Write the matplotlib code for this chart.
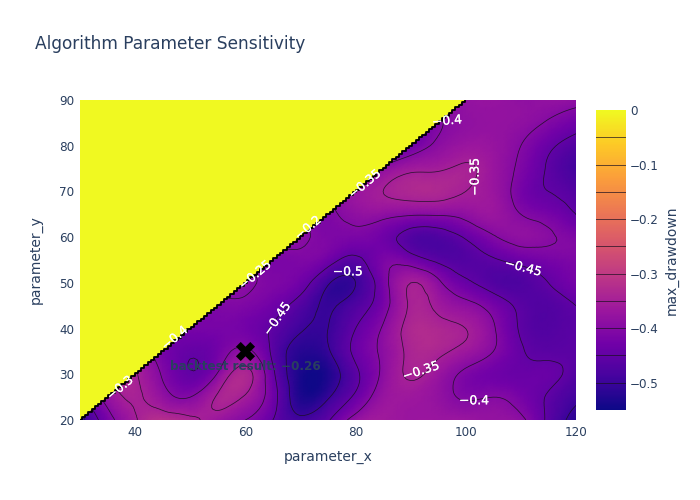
import matplotlib

matplotlib.use("Agg")
import matplotlib.patheffects as pe
import matplotlib.pyplot as plt
import matplotlib.tri as mtri
import numpy as np
from matplotlib.cm import ScalarMappable
from matplotlib.colors import LinearSegmentedColormap, Normalize

plt.rcParams["font.family"] = "DejaVu Sans"

param_x = [30, 35, 40, 45, 50, 55, 60, 65, 70, 75, 80, 85, 90, 95, 100, 105, 110, 115, 120]
param_y = [20, 25, 30, 35, 40, 45, 50, 55, 60, 65, 70, 75, 80, 85, 90]

# max drawdown per (y, x); zero means the combination was not run
max_drawdown = [
    [-.52, -.42, -.355, -.32, -.34, -.37, -.40, -.45, -.49, -.455, -.38, -.36, -.37, -.37, -.37, -.38, -.39, -.46, -.52],
    [0, -.38, -.345, -.38, -.40, -.345, -.355, -.43, -.53, -.505, -.44, -.375, -.365, -.38, -.405, -.40, -.42, -.455, -.49],
    [0, 0, -.345, -.405, -.447, -.395, -.335, -.44, -.535, -.53, -.46, -.39, -.345, -.37, -.41, -.43, -.44, -.44, -.47],
    [0, 0, 0, -.42, -.445, -.425, -.39, -.46, -.52, -.505, -.44, -.39, -.34, -.34, -.365, -.40, -.445, -.46, -.46],
    [0, 0, 0, 0, -.42, -.42, -.425, -.455, -.495, -.50, -.45, -.395, -.335, -.335, -.35, -.395, -.455, -.47, -.46],
    [0, 0, 0, 0, 0, -.41, -.41, -.43, -.47, -.505, -.475, -.42, -.345, -.36, -.385, -.42, -.46, -.47, -.45],
    [0, 0, 0, 0, 0, 0, -.39, -.41, -.43, -.495, -.50, -.42, -.35, -.39, -.44, -.47, -.475, -.45, -.42],
    [0, 0, 0, 0, 0, 0, 0, -.415, -.41, -.43, -.46, -.415, -.425, -.46, -.47, -.455, -.435, -.42, -.41],
    [0, 0, 0, 0, 0, 0, 0, 0, -.39, -.41, -.415, -.43, -.47, -.475, -.445, -.405, -.385, -.395, -.41],
    [0, 0, 0, 0, 0, 0, 0, 0, 0, -.41, -.385, -.385, -.395, -.395, -.385, -.37, -.40, -.42, -.45],
    [0, 0, 0, 0, 0, 0, 0, 0, 0, 0, -.37, -.35, -.335, -.335, -.35, -.37, -.42, -.45, -.47],
    [0, 0, 0, 0, 0, 0, 0, 0, 0, 0, 0, -.39, -.36, -.355, -.345, -.37, -.41, -.455, -.49],
    [0, 0, 0, 0, 0, 0, 0, 0, 0, 0, 0, 0, -.43, -.39, -.37, -.375, -.40, -.44, -.47],
    [0, 0, 0, 0, 0, 0, 0, 0, 0, 0, 0, 0, 0, -.405, -.385, -.38, -.385, -.405, -.43],
    [0, 0, 0, 0, 0, 0, 0, 0, 0, 0, 0, 0, 0, 0, -.38, -.375, -.385, -.38, -.385],
]

plasma_stops = ["#0d0887", "#46039f", "#7201a8", "#9c179e", "#bd3786",
                "#d8576b", "#ed7953", "#fb9f3a", "#fdca26", "#f0f921"]
contour_levels = [-.55, -.5, -.45, -.4, -.35, -.3, -.25, -.2, -.15, -.1, -.05]

label_x = [37.3, 47.2, 61.8, 71.4, 81.7, 96.6, 101.7, 110.4, 78.6, 91.9, 101.5, 65.8]
label_y = [27.0, 37.9, 51.7, 62.0, 71.6, 85.4, 73.2, 53.3, 52.4, 30.7, 24.2, 42.1]
label_text = ["−0.3", "−0.4", "−0.25", "−0.2", "−0.35", "−0.4", "−0.35", "−0.45", "−0.5", "−0.35", "−0.4", "−0.45"]
label_angle = [40, 40, 40, 40, 40, 5, 90, -15, 0, 18, 0, 55]

best_x, best_y = 60, 35
best_text = "backtest result: −0.26"
colorbar_ticks = [0, -.1, -.2, -.3, -.4, -.5]
colorbar_labels = ["0", "−0.1", "−0.2", "−0.3", "−0.4", "−0.5"]

INK = "#2a3f5f"
W, H = 700, 500


def grid_triangulation(xs, ys, values):
    """Triangles along the y = x diagonal; those touching a zero cell are masked."""
    nx, ny = len(xs), len(ys)
    gx, gy = np.meshgrid(xs, ys)
    idx = np.arange(nx * ny).reshape(ny, nx)
    a, b = idx[:-1, :-1].ravel(), idx[:-1, 1:].ravel()
    c, d = idx[1:, 1:].ravel(), idx[1:, :-1].ravel()
    tris = np.vstack([np.c_[a, b, c], np.c_[a, c, d]])
    tri = mtri.Triangulation(gx.ravel().astype(float), gy.ravel().astype(float), tris)
    tri.set_mask((values.ravel()[tris] == 0).any(axis=1))
    return tri


z = np.asarray(max_drawdown)
cmap = LinearSegmentedColormap.from_list("plotly_plasma", plasma_stops)
norm = Normalize(vmin=-0.55, vmax=0)

fig = plt.figure(figsize=(W / 100, H / 100), dpi=100)
ax = fig.add_axes([80 / W, 80 / H, 496 / W, 320 / H])
ax.set_facecolor(cmap(1.0))

tri = grid_triangulation(param_x, param_y, z)
fine_tri, fine_z = mtri.UniformTriRefiner(tri).refine_field(z.ravel().astype(float), subdiv=3)
ax.tripcolor(fine_tri, fine_z, shading="gouraud", cmap=cmap, norm=norm)
ax.tricontour(fine_tri, fine_z, levels=contour_levels, colors="#1a1020", linewidths=0.55,
              linestyles="solid", alpha=0.85)

# black staircase where the surface drops to zero
edge_x = np.arange(param_x[0], param_x[-1] + 0.1, 0.6)
edge_y = edge_x - (param_x[0] - param_y[0])
ax.step(edge_x, edge_y, where="mid", color="black", linewidth=1.3, zorder=3)

for lx, ly, text, angle in zip(label_x, label_y, label_text, label_angle):
    ax.text(lx, ly, text, color="white", fontsize=8.9, rotation=angle, rotation_mode="anchor",
            ha="center", va="center", zorder=5,
            path_effects=[pe.withStroke(linewidth=0.15, foreground="white")])

ax.scatter([best_x], [best_y], marker="X", s=190, color="black", linewidths=0, zorder=6)
ax.annotate(best_text, (best_x, best_y), xytext=(0, -11), textcoords="offset points",
            ha="center", va="center", color=INK, fontsize=8.64, fontweight="bold", zorder=7)

ax.set_xlim(param_x[0], param_x[-1])
ax.set_ylim(param_y[0], param_y[-1])
ax.set_xticks(range(40, 121, 20))
ax.set_yticks(range(20, 91, 10))
ax.tick_params(length=0, labelsize=8.64, labelcolor=INK, pad=4)
for spine in ax.spines.values():
    spine.set_visible(False)
ax.set_xlabel("parameter_x", fontsize=10, color=INK, labelpad=8)
ax.set_ylabel("parameter_y", fontsize=10, color=INK, labelpad=12)

cax = fig.add_axes([596 / W, 90 / H, 30 / W, 300 / H])
cbar = fig.colorbar(ScalarMappable(norm=norm, cmap=cmap), cax=cax)
cbar.outline.set_visible(False)
cbar.set_ticks(colorbar_ticks, labels=colorbar_labels)
cax.tick_params(length=0, labelsize=8.64, labelcolor=INK, pad=3)
for level in contour_levels[1:]:
    cax.axhline(level, color="#1a1020", linewidth=0.7, alpha=0.7)
cbar.set_label("max_drawdown", fontsize=10, color=INK, labelpad=4)

fig.text(35 / W, 1 - 44 / H, "Algorithm Parameter Sensitivity", fontsize=12.24, color=INK, va="center")

fig.savefig("out.png", dpi=100)
